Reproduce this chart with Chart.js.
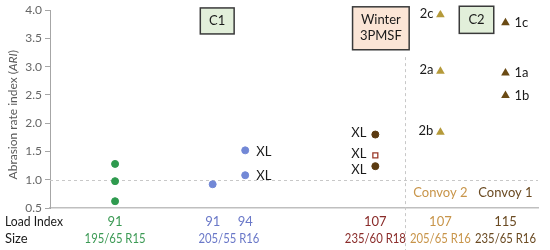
<!DOCTYPE html>
<html><head><meta charset="utf-8">
<script src="https://cdn.jsdelivr.net/npm/chart.js@4.4.0/dist/chart.umd.min.js"></script>
<style>html,body{margin:0;padding:0;background:#fff}#wrap{width:550px;height:250px}</style>
</head><body><div id="wrap"><canvas id="c" width="550" height="250"></canvas></div>
<script>
// ---- data ----
const greenX = [1, 1, 1];
const greenY = [1.28, 0.975, 0.62];
const blueX = [2.5, 3, 3];
const blueY = [0.92, 1.52, 1.08];
const blueLabels = ['', 'XL', 'XL'];
const winterCircX = [5, 5];
const winterCircY = [1.80, 1.24];
const winterSqX = [5];
const winterSqY = [1.43];
const winterLabels = ['XL', 'XL', 'XL'];
const convoy2X = [6, 6, 6];
const convoy2Y = [3.92, 2.92, 1.84];
const convoy2Labels = ['2c', '2a', '2b'];
const convoy1X = [7, 7, 7];
const convoy1Y = [3.78, 2.89, 2.49];
const convoy1Labels = ['1c', '1a', '1b'];
const loadIdxPos = [1, 2.5, 3, 5, 6, 7];
const loadIdx = ['91', '91', '94', '107', '107', '115'];
const sizePos = [1, 2.75, 5, 6, 7];
const sizes = ['195/65 R15', '205/55 R16', '235/60 R18', '205/65 R16', '235/65 R16'];

const cGreen = '#2e9a4e', cBlue = '#7288d6', cWinter = '#5b3a10', cWinterSq = '#9a3a2a',
      cConv2 = '#b59a3a', cConv1 = '#6a4a14';
const tGreen = '#3c9a55', tBlue = '#6a78c8', tWinter = '#8a2c2a', tConv2 = '#c8954a', tConv1 = '#6a4a22';
const FONT = 'Lato, "Open Sans", sans-serif';

function pts(xs, ys){ return xs.map((x,i)=>({x:x, y:ys[i]})); }

const overlay = {
  id: 'overlay',
  beforeDatasetsDraw(chart){
    const {ctx, chartArea:a, scales:{x, y}} = chart;
    ctx.save();
    ctx.strokeStyle = '#c8c8c8'; ctx.lineWidth = 1; ctx.setLineDash([3,3]);
    ctx.beginPath();
    const y1 = Math.round(y.getPixelForValue(1.0)) + 0.5;
    ctx.moveTo(a.left, y1); ctx.lineTo(a.right, y1); ctx.stroke();
    const xv = Math.round(x.getPixelForValue(5.45)) + 0.5;
    ctx.beginPath();
    ctx.moveTo(xv, y.getPixelForValue(3.17)); ctx.lineTo(xv, 250); ctx.stroke();
    ctx.restore();
  },
  afterDraw(chart){
    const {ctx, chartArea:a, scales:{x, y}} = chart;
    ctx.save();
    // y-axis title
    ctx.save();
    ctx.translate(13, y.getPixelForValue(2.15));
    ctx.rotate(-Math.PI/2);
    ctx.fillStyle = '#595959';
    ctx.textBaseline = 'middle';
    const p1 = 'Abrasion rate index (', p2 = 'ARI', p3 = ')';
    ctx.font = '12px ' + FONT; const w1 = ctx.measureText(p1).width, w3 = ctx.measureText(p3).width;
    ctx.font = 'italic 12px ' + FONT; const w2 = ctx.measureText(p2).width;
    let sx = -(w1+w2+w3)/2;
    ctx.font = '12px ' + FONT; ctx.textAlign='left'; ctx.fillText(p1, sx, 0); sx += w1;
    ctx.font = 'italic 12px ' + FONT; ctx.fillText(p2, sx, 0); sx += w2;
    ctx.font = '12px ' + FONT; ctx.fillText(p3, sx, 0);
    ctx.restore();

    // point labels
    ctx.font = '13px ' + FONT; ctx.fillStyle = '#1a1a1a'; ctx.textBaseline = 'middle';
    ctx.textAlign = 'left';
    blueY.forEach((v,i)=>{ if(blueLabels[i]) ctx.fillText(blueLabels[i], x.getPixelForValue(blueX[i])+11, y.getPixelForValue(v)+1); });
    const wy = [winterCircY[0], winterSqY[0], winterCircY[1]];
    const wOff = [-2, -2, 4];
    ctx.textAlign = 'right';
    wy.forEach((v,i)=>{ ctx.fillText(winterLabels[i], x.getPixelForValue(5)-9, y.getPixelForValue(v)+wOff[i]); });
    convoy2Y.forEach((v,i)=>{ ctx.fillText(convoy2Labels[i], x.getPixelForValue(convoy2X[i])-7, y.getPixelForValue(v)-1); });
    ctx.textAlign = 'left';
    convoy1Y.forEach((v,i)=>{ ctx.fillText(convoy1Labels[i], x.getPixelForValue(convoy1X[i])+9, y.getPixelForValue(v)); });

    // convoy names
    ctx.font = '13px ' + FONT; ctx.textAlign = 'center';
    ctx.fillStyle = tConv2; ctx.fillText('Convoy 2', x.getPixelForValue(6), y.getPixelForValue(0.76), 56);
    ctx.fillStyle = tConv1; ctx.fillText('Convoy 1', x.getPixelForValue(7), y.getPixelForValue(0.76), 56);

    // boxes
    function box(x0,x1,y0,y1,fill,lines){
      const L = x.getPixelForValue(x0), R = x.getPixelForValue(x1), T = y.getPixelForValue(y0), B = y.getPixelForValue(y1);
      ctx.fillStyle = fill; ctx.fillRect(L, T, R-L, B-T);
      ctx.strokeStyle = '#3a3a3a'; ctx.lineWidth = 1.5; ctx.strokeRect(L, T, R-L, B-T);
      ctx.fillStyle = '#1a1a1a'; ctx.font = '13px ' + FONT; ctx.textAlign='center'; ctx.textBaseline='middle';
      const cx = (L+R)/2, cy = (T+B)/2, lh = 16;
      lines.forEach((s,i)=> ctx.fillText(s, cx, cy + (i-(lines.length-1)/2)*lh));
    }
    box(2.31, 2.83, 4.04, 3.58, '#e2efda', ['C1']);
    box(4.65, 5.52, 4.06, 3.30, '#fbe5d6', ['Winter', '3PMSF']);
    box(6.29, 6.82, 4.07, 3.59, '#e2efda', ['C2']);

    // bottom label rows
    ctx.font = '13px ' + FONT; ctx.textBaseline = 'middle'; ctx.textAlign = 'left'; ctx.fillStyle = '#1a1a1a';
    ctx.fillText('Load Index', 5, 222, 58);
    ctx.fillText('Size', 5, 239);
    const lc = [tGreen, tBlue, tBlue, tWinter, tConv2, tConv1];
    const sc = [tGreen, tBlue, tWinter, tConv2, tConv1];
    ctx.textAlign = 'center';
    loadIdx.forEach((s,i)=>{ ctx.fillStyle = lc[i]; ctx.fillText(s, x.getPixelForValue(loadIdxPos[i]), 222); });
    sizes.forEach((s,i)=>{ ctx.fillStyle = sc[i]; ctx.fillText(s, x.getPixelForValue(sizePos[i]), 239, 61); });
    ctx.restore();
  }
};

new Chart(document.getElementById('c'), {
  type: 'scatter',
  data: {
    datasets: [
      {data: pts(greenX, greenY), pointStyle:'circle', pointRadius:3.5, backgroundColor:cGreen, borderColor:cGreen},
      {data: pts(blueX, blueY), pointStyle:'circle', pointRadius:3.5, backgroundColor:cBlue, borderColor:cBlue},
      {data: pts(winterCircX, winterCircY), pointStyle:'circle', pointRadius:3.5, backgroundColor:cWinter, borderColor:cWinter},
      {data: pts(winterSqX, winterSqY), pointStyle:'rect', pointRadius:3.5, backgroundColor:'#ffffff', borderColor:cWinterSq, borderWidth:1.3},
      {data: pts(convoy2X, convoy2Y), pointStyle:'triangle', pointRadius:5, backgroundColor:cConv2, borderColor:cConv2, borderWidth:0},
      {data: pts(convoy1X, convoy1Y), pointStyle:'triangle', pointRadius:5, backgroundColor:cConv1, borderColor:cConv1, borderWidth:0}
    ]
  },
  options: {
    responsive: false, animation: false, maintainAspectRatio: false,
    layout: {padding: {left: 0, right: 12, top: 8, bottom: 0}},
    plugins: {legend: {display:false}, tooltip: {enabled:false}},
    scales: {
      x: {
        type: 'linear', min: 0, max: 7.5,
        afterFit(s){ s.height = 42; },
        ticks: {display: false},
        grid: {display: false, drawTicks:false},
        border: {display: true, color: '#bfbfbf', width: 1.5}
      },
      y: {
        type: 'linear', min: 0.5, max: 4.0,
        afterFit(s){ s.width = 50; },
        afterBuildTicks(s){ const t=[]; for(let v=0.5; v<=4.0001; v+=0.25) t.push({value: Math.round(v*100)/100}); s.ticks = t; },
        ticks: {
          color: '#666', font: {family: FONT, size: 12}, padding: 3,
          callback(v){ return (Math.abs(v*2 - Math.round(v*2)) < 1e-6) ? v.toFixed(1) : ''; }
        },
        grid: {display: true, drawOnChartArea: false, drawTicks: true, tickLength: 5, color: '#a6a6a6'},
        border: {display: true, color: '#a6a6a6', width: 1}
      }
    }
  },
  plugins: [overlay]
});
</script>
</body></html>
